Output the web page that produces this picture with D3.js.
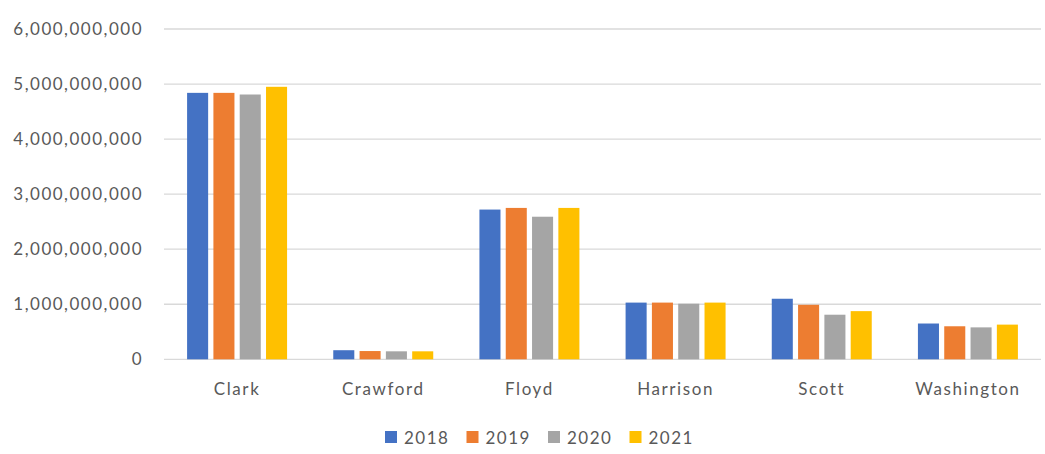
<!DOCTYPE html>
<html>
<head>
<meta charset="utf-8">
<script src="https://cdn.jsdelivr.net/npm/d3@7"></script>
<style>
  html, body { margin: 0; padding: 0; background: #ffffff; }
  svg { display: block; }
  text { font-family: Lato, "Open Sans", sans-serif; fill: #595959; }
</style>
</head>
<body>
<svg id="chart" width="1045" height="454"></svg>
<script>
const categories = ["Clark", "Crawford", "Floyd", "Harrison", "Scott", "Washington"];
const years = ["2018", "2019", "2020", "2021"];
const values2018 = [4840000000, 165000000, 2720000000, 1030000000, 1100000000, 650000000];
const values2019 = [4840000000, 150000000, 2750000000, 1030000000, 990000000, 600000000];
const values2020 = [4810000000, 145000000, 2590000000, 1010000000, 810000000, 580000000];
const values2021 = [4950000000, 145000000, 2750000000, 1030000000, 875000000, 630000000];
const yTicks = [0, 1000000000, 2000000000, 3000000000, 4000000000, 5000000000, 6000000000];
const colors = ["#4472C4", "#ED7D31", "#A5A5A5", "#FFC000"];

const seriesValues = [values2018, values2019, values2020, values2021];

(function () {
const svg = d3.select("#chart");
const plotLeft = 164, plotRight = 1041, plotTop = 29, plotBottom = 359.3;

const x0 = d3.scaleBand().domain(categories).range([plotLeft, plotRight])
  .paddingInner(0.316).paddingOuter(0.158);
const x1 = d3.scaleBand().domain(years).range([0, x0.bandwidth()])
  .paddingInner(0.2);
const y = d3.scaleLinear().domain([0, 6000000000]).range([plotBottom, plotTop]);
const color = d3.scaleOrdinal().domain(years).range(colors);
const fmt = d3.format(",");

// gridlines
svg.append("g").selectAll("line").data(yTicks).join("line")
  .attr("x1", plotLeft).attr("x2", plotRight)
  .attr("y1", d => y(d)).attr("y2", d => y(d))
  .attr("stroke", "#d9d9d9").attr("stroke-width", 1.3);

// y axis labels
const yAxis = d3.axisLeft(y).tickValues(yTicks).tickFormat(fmt).tickSize(0).tickPadding(0);
const gy = svg.append("g").attr("transform", `translate(143,0)`).call(yAxis);
gy.select(".domain").remove();
gy.selectAll("text").attr("font-size", 17).attr("letter-spacing", 1.5)
  .attr("fill", "#595959").style("font-family", "Lato, 'Open Sans', sans-serif");

// bars
const groups = svg.append("g").selectAll("g").data(categories).join("g")
  .attr("transform", d => `translate(${x0(d)},0)`);
groups.selectAll("rect")
  .data((c, i) => years.map((yr, j) => ({ yr, v: seriesValues[j][i] })))
  .join("rect")
  .attr("x", d => x1(d.yr))
  .attr("width", x1.bandwidth())
  .attr("y", d => y(d.v))
  .attr("height", d => y(0) - y(d.v))
  .attr("fill", d => color(d.yr));

// x axis
const xAxis = d3.axisBottom(x0).tickSize(0).tickPadding(0);
const gx = svg.append("g").attr("transform", `translate(0,${plotBottom})`).call(xAxis);
gx.select(".domain").remove();
gx.selectAll("text").attr("dy", null).attr("y", 36)
  .attr("font-size", 17).attr("letter-spacing", 1.6)
  .attr("fill", "#595959").style("font-family", "Lato, 'Open Sans', sans-serif");

// legend
const legendStep = 81.5;
const legendX = 385;
const legend = svg.append("g").selectAll("g").data(years).join("g")
  .attr("transform", (d, i) => `translate(${legendX + i * legendStep},431)`);
legend.append("rect").attr("width", 12).attr("height", 12).attr("fill", d => color(d));
legend.append("text").attr("x", 19).attr("y", 12.5)
  .attr("font-size", 17).attr("letter-spacing", 1.5).text(d => d);
})();
</script>
</body>
</html>
